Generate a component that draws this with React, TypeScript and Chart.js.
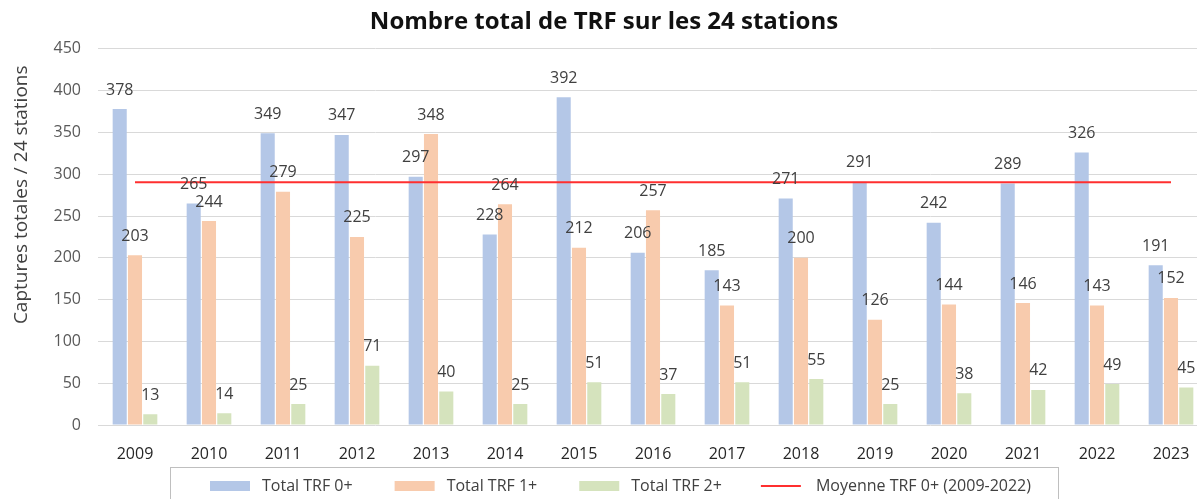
import React, { useEffect, useRef } from "react";
import { Chart, registerables } from "chart.js";

Chart.register(...registerables);

const years = ["2009", "2010", "2011", "2012", "2013", "2014", "2015", "2016", "2017", "2018", "2019", "2020", "2021", "2022", "2023"];
const trf0 = [378, 265, 349, 347, 297, 228, 392, 206, 185, 271, 291, 242, 289, 326, 191];
const trf1 = [203, 244, 279, 225, 348, 264, 212, 257, 143, 200, 126, 144, 146, 143, 152];
const trf2 = [13, 14, 25, 71, 40, 25, 51, 37, 51, 55, 25, 38, 42, 49, 45];
const moyenne0 = [290.4, 290.4, 290.4, 290.4, 290.4, 290.4, 290.4, 290.4, 290.4, 290.4, 290.4, 290.4, 290.4, 290.4, 290.4];
const yTicks = [0, 50, 100, 150, 200, 250, 300, 350, 400, 450];

const TITLE = "Nombre total de TRF sur les 24 stations";
const Y_TITLE = "Captures totales / 24 stations";
const LABELS = ["Total TRF 0+", "Total TRF 1+", "Total TRF 2+", "Moyenne TRF 0+ (2009-2022)"];

const BLUE = "#b4c7e7";
const ORANGE = "#f8cbad";
const GREEN = "#d5e3bd";
const RED = "#ff2f2f";
const FONT = "'Open Sans', 'DejaVu Sans', sans-serif";

const valueLabels = {
  id: "valueLabels",
  afterDatasetsDraw(chart: any) {
    const ctx = chart.ctx;
    ctx.save();
    ctx.font = `16px ${FONT}`;
    ctx.fillStyle = "#404040";
    ctx.textAlign = "center";
    ctx.textBaseline = "middle";
    chart.data.datasets.forEach((ds: any, i: number) => {
      if (ds.type === "line") return;
      const meta = chart.getDatasetMeta(i);
      meta.data.forEach((el: any, j: number) => {
        ctx.fillText(String(ds.data[j]), el.x, el.y - 19);
      });
    });
    ctx.restore();
  },
};

const extras = {
  id: "extras",
  afterDraw(chart: any) {
    const ctx = chart.ctx;
    const area = chart.chartArea;
    ctx.save();
    // y axis title
    ctx.font = `19px ${FONT}`;
    ctx.fillStyle = "#404040";
    ctx.textAlign = "center";
    ctx.textBaseline = "middle";
    ctx.translate(22, area.top + 146);
    ctx.rotate(-Math.PI / 2);
    ctx.fillText(Y_TITLE, 0, 0);
    ctx.restore();

    // legend
    ctx.save();
    const boxL = 170, boxT = 467, boxR = 1058, boxB = 505;
    ctx.strokeStyle = "#bfbfbf";
    ctx.lineWidth = 1;
    ctx.strokeRect(boxL + 0.5, boxT + 0.5, boxR - boxL, boxB - boxT);
    ctx.font = `16px ${FONT}`;
    ctx.textBaseline = "middle";
    ctx.textAlign = "left";
    const colors = [BLUE, ORANGE, GREEN, RED];
    const symW = 40, gap = 12, itemGap = 42;
    let x = boxL + 40;
    const cy = 486;
    LABELS.forEach((l, i) => {
      if (i < 3) {
        ctx.fillStyle = colors[i];
        ctx.fillRect(x, cy - 5, symW, 10);
      } else {
        ctx.strokeStyle = colors[i];
        ctx.lineWidth = 2;
        ctx.beginPath();
        ctx.moveTo(x - 3, cy);
        ctx.lineTo(x + symW - 3, cy);
        ctx.stroke();
      }
      x += symW + gap;
      ctx.fillStyle = "#404040";
      ctx.fillText(l, x, cy);
      x += ctx.measureText(l).width + itemGap;
    });
    ctx.restore();
  },
};

export default function App() {
  const ref = useRef<HTMLCanvasElement>(null);
  useEffect(() => {
    document.body.style.margin = "0";
    document.body.style.overflow = "hidden";
    const chart = new Chart(ref.current as HTMLCanvasElement, {
      type: "bar",
      data: {
        labels: years,
        datasets: [
          { type: "line", label: LABELS[3], data: moyenne0, borderColor: RED, borderWidth: 2, pointRadius: 0, fill: false, order: 0 } as any,
          { label: LABELS[0], data: trf0, backgroundColor: BLUE, order: 1 },
          { label: LABELS[1], data: trf1, backgroundColor: ORANGE, order: 1 },
          { label: LABELS[2], data: trf2, backgroundColor: GREEN, order: 1 },
        ],
      },
      options: {
        animation: false,
        responsive: false,
        maintainAspectRatio: false,
        layout: { padding: { left: 0, right: 0, top: 0, bottom: 0 } },
        datasets: { bar: { categoryPercentage: 0.62, barPercentage: 0.92 } } as any,
        plugins: {
          legend: { display: false },
          tooltip: { enabled: false },
          title: {
            display: true,
            text: TITLE,
            color: "#111111",
            font: { family: FONT, size: 24, weight: "bold" },
            padding: { top: 8, bottom: 12 },
          },
        },
        scales: {
          x: {
            grid: { display: false },
            border: { display: false },
            ticks: { color: "#262626", font: { family: FONT, size: 16 }, padding: 12, maxRotation: 0 },
            afterFit: (s: any) => { s.height = 74; },
          },
          y: {
            min: 0,
            max: 450,
            afterBuildTicks: (s: any) => { s.ticks = yTicks.map((v) => ({ value: v })); },
            grid: { color: "#d9d9d9", lineWidth: 1, drawTicks: false },
            border: { display: false },
            ticks: { color: "#595959", font: { family: FONT, size: 16 }, padding: 17 },
            afterFit: (s: any) => { s.width = 98; },
          },
        },
      },
      plugins: [valueLabels, extras],
    });
    return () => chart.destroy();
  }, []);
  return (
    <div style={{ width: 1197, height: 499, overflow: "hidden" }}>
      <canvas ref={ref} width={1208} height={499} style={{ display: "block" }} />
    </div>
  );
}
